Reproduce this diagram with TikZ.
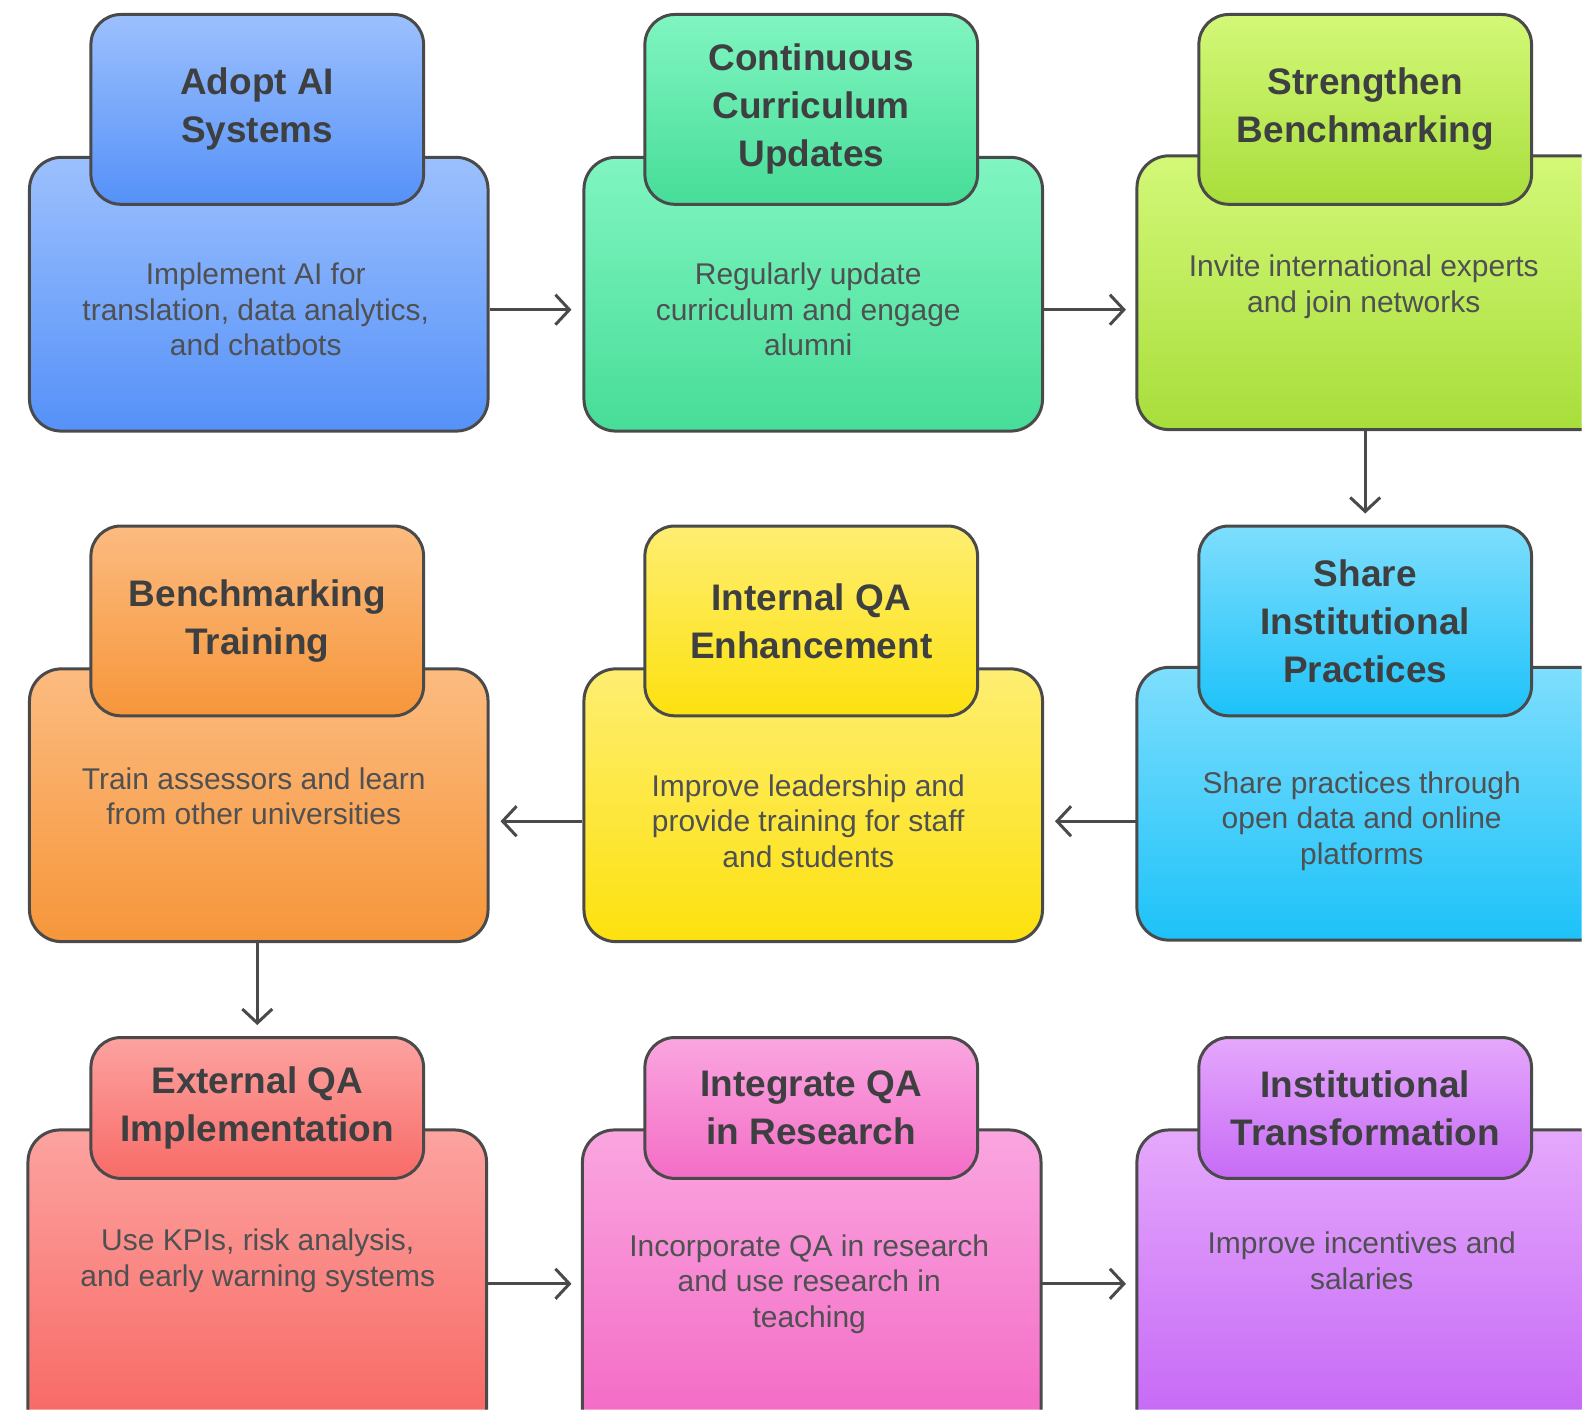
\documentclass[tikz,border=0pt]{standalone}
\usepackage{fontspec}
\setmainfont{Liberation Sans}
\usetikzlibrary{arrows.meta,positioning}
\definecolor{linec}{HTML}{4A4A4A}
\definecolor{titlec}{HTML}{3E3F40}
\definecolor{notec}{HTML}{4F5052}
\definecolor{blueA}{HTML}{9CC0FD}\definecolor{blueB}{HTML}{5591F8}
\definecolor{greenA}{HTML}{80F5C1}\definecolor{greenB}{HTML}{47DD98}
\definecolor{limeA}{HTML}{D3F878}\definecolor{limeB}{HTML}{A8DE3B}
\definecolor{orangeA}{HTML}{FCBB80}\definecolor{orangeB}{HTML}{F6963A}
\definecolor{yellowA}{HTML}{FEEE72}\definecolor{yellowB}{HTML}{FDE10E}
\definecolor{cyanA}{HTML}{7EDEFD}\definecolor{cyanB}{HTML}{1DC2F9}
\definecolor{redA}{HTML}{FCA3A0}\definecolor{redB}{HTML}{F86B67}
\definecolor{pinkA}{HTML}{FAA6E0}\definecolor{pinkB}{HTML}{F46DC6}
\definecolor{purpleA}{HTML}{E5A8FC}\definecolor{purpleB}{HTML}{C76BF6}
\tikzset{
  card/.style={draw=linec, line width=1.5pt, rounded corners=16pt,
    minimum width=229.5pt, anchor=north west, inner sep=0pt},
  cutcard/.style={draw=linec, line width=1.5pt, rounded corners=16pt},
  tab/.style={draw=linec, line width=1.5pt, rounded corners=15pt,
    minimum width=166.5pt, anchor=north, align=center, text=titlec,
    font=\fontsize{18.5}{24}\selectfont\bfseries},
  note/.style={align=center, text=notec, font=\fontsize{15}{17.75}\selectfont},
  flow/.style={draw=linec, line width=1.5pt,
    -{Straight Barb[length=7pt,width=15pt,line width=1.5pt]}, shorten >=5.5pt},
  grad/.style 2 args={top color=#1, bottom color=#2}
}
\begin{document}
\begin{tikzpicture}[x=0.5pt,y=-0.5pt]
\fill[white] (0,0) rectangle (1583,1411);
% cards cut by the page edge
\coordinate (b3nw) at (1138,156); \coordinate (b3sw) at (1138,430);
\coordinate (b6nw) at (1138,668); \coordinate (b6sw) at (1138,941);
\coordinate (b7nw) at (28,1131);  \coordinate (b7ne) at (487,1131);
\coordinate (b8nw) at (583,1131); \coordinate (b8ne) at (1042,1131);
\coordinate (b9nw) at (1138,1131);
% first row
\node[card, grad={blueA}{blueB}, minimum height=137pt] (b1) at (28,156) {};
\node[tab, grad={blueA}{blueB}, minimum height=95pt] (h1) at (257.5,13) {Adopt AI\\Systems};
\node[note] (t1) at (256,310) {Implement AI for\\translation, data analytics,\\and chatbots};
\node[card, grad={greenA}{greenB}, minimum height=137pt] (b2) at (583,156) {};
\node[tab, grad={greenA}{greenB}, minimum height=95pt] (h2) at (812,13) {Continuous\\Curriculum\\Updates};
\node[note] (t2) at (809,310) {Regularly update\\curriculum and engage\\alumni};
\path[cutcard, grad={limeA}{limeB}] (1583,156) -- (b3nw) -- (b3sw) -- (1583,430);
\node[tab, grad={limeA}{limeB}, minimum height=95pt] (h3) at (1366.5,13) {Strengthen\\Benchmarking};
\node[note] (t3) at (1365,287) {Invite international experts\\and join networks};
% second row
\node[card, grad={orangeA}{orangeB}, minimum height=136.5pt] (b4) at (28,668) {};
\node[tab, grad={orangeA}{orangeB}, minimum height=95pt] (h4) at (257.5,525) {Benchmarking\\Training};
\node[note] (t4) at (254,797) {Train assessors and learn\\from other universities};
\node[card, grad={yellowA}{yellowB}, minimum height=136.5pt] (b5) at (583,668) {};
\node[tab, grad={yellowA}{yellowB}, minimum height=95pt] (h5) at (812,525) {Internal QA\\Enhancement};
\node[note] (t5) at (809,822) {Improve leadership and\\provide training for staff\\and students};
\path[cutcard, grad={cyanA}{cyanB}] (1583,668) -- (b6nw) -- (b6sw) -- (1583,941);
\node[tab, grad={cyanA}{cyanB}, minimum height=95pt] (h6) at (1366.5,525) {Share\\Institutional\\Practices};
\node[note] (t6) at (1363,822) {Share practices through\\open data and online\\platforms};
% third row
\path[cutcard, grad={redA}{redB}] (28,1411) -- (b7nw) -- (b7ne) -- (487,1411);
\node[tab, grad={redA}{redB}, minimum height=70.5pt] (h7) at (257.5,1037) {External QA\\Implementation};
\node[note] (t7) at (258,1262) {Use KPIs, risk analysis,\\and early warning systems};
\path[cutcard, grad={pinkA}{pinkB}] (583,1411) -- (b8nw) -- (b8ne) -- (1042,1411);
\node[tab, grad={pinkA}{pinkB}, minimum height=70.5pt] (h8) at (812,1037) {Integrate QA\\in Research};
\node[note] (t8) at (810,1285) {Incorporate QA in research\\and use research in\\teaching};
\path[grad={purpleA}{purpleB}] (1583,1131) -- (1400,1131) [rounded corners=16pt] -- (b9nw)
  -- (1138,1300) [sharp corners] -- (1138,1411) -- (1583,1411) -- cycle;
\draw[cutcard] (1583,1131) -- (b9nw) -- (1138,1411);
\node[tab, grad={purpleA}{purpleB}, minimum height=70.5pt] (h9) at (1366.5,1037) {Institutional\\Transformation};
\node[note] (t9) at (1363,1262) {Improve incentives and\\salaries};
% connectors
\draw[flow] (b1.east |- t2) -- (b2.west |- t2);
\draw[flow] (b2.east |- t2) -- (b3nw |- t2);
\draw[flow] (b3sw -| h3) -- (h6.north);
\draw[flow] (b6nw |- t5) -- (b5.east |- t5);
\draw[flow] (b5.west |- t5) -- (b4.east |- t5);
\draw[flow] (b4.south -| h4) -- (h7.north);
\draw[flow] (b7ne |- t8) -- (b8nw |- t8);
\draw[flow] (b8ne |- t8) -- (b9nw |- t8);
\end{tikzpicture}
\end{document}
